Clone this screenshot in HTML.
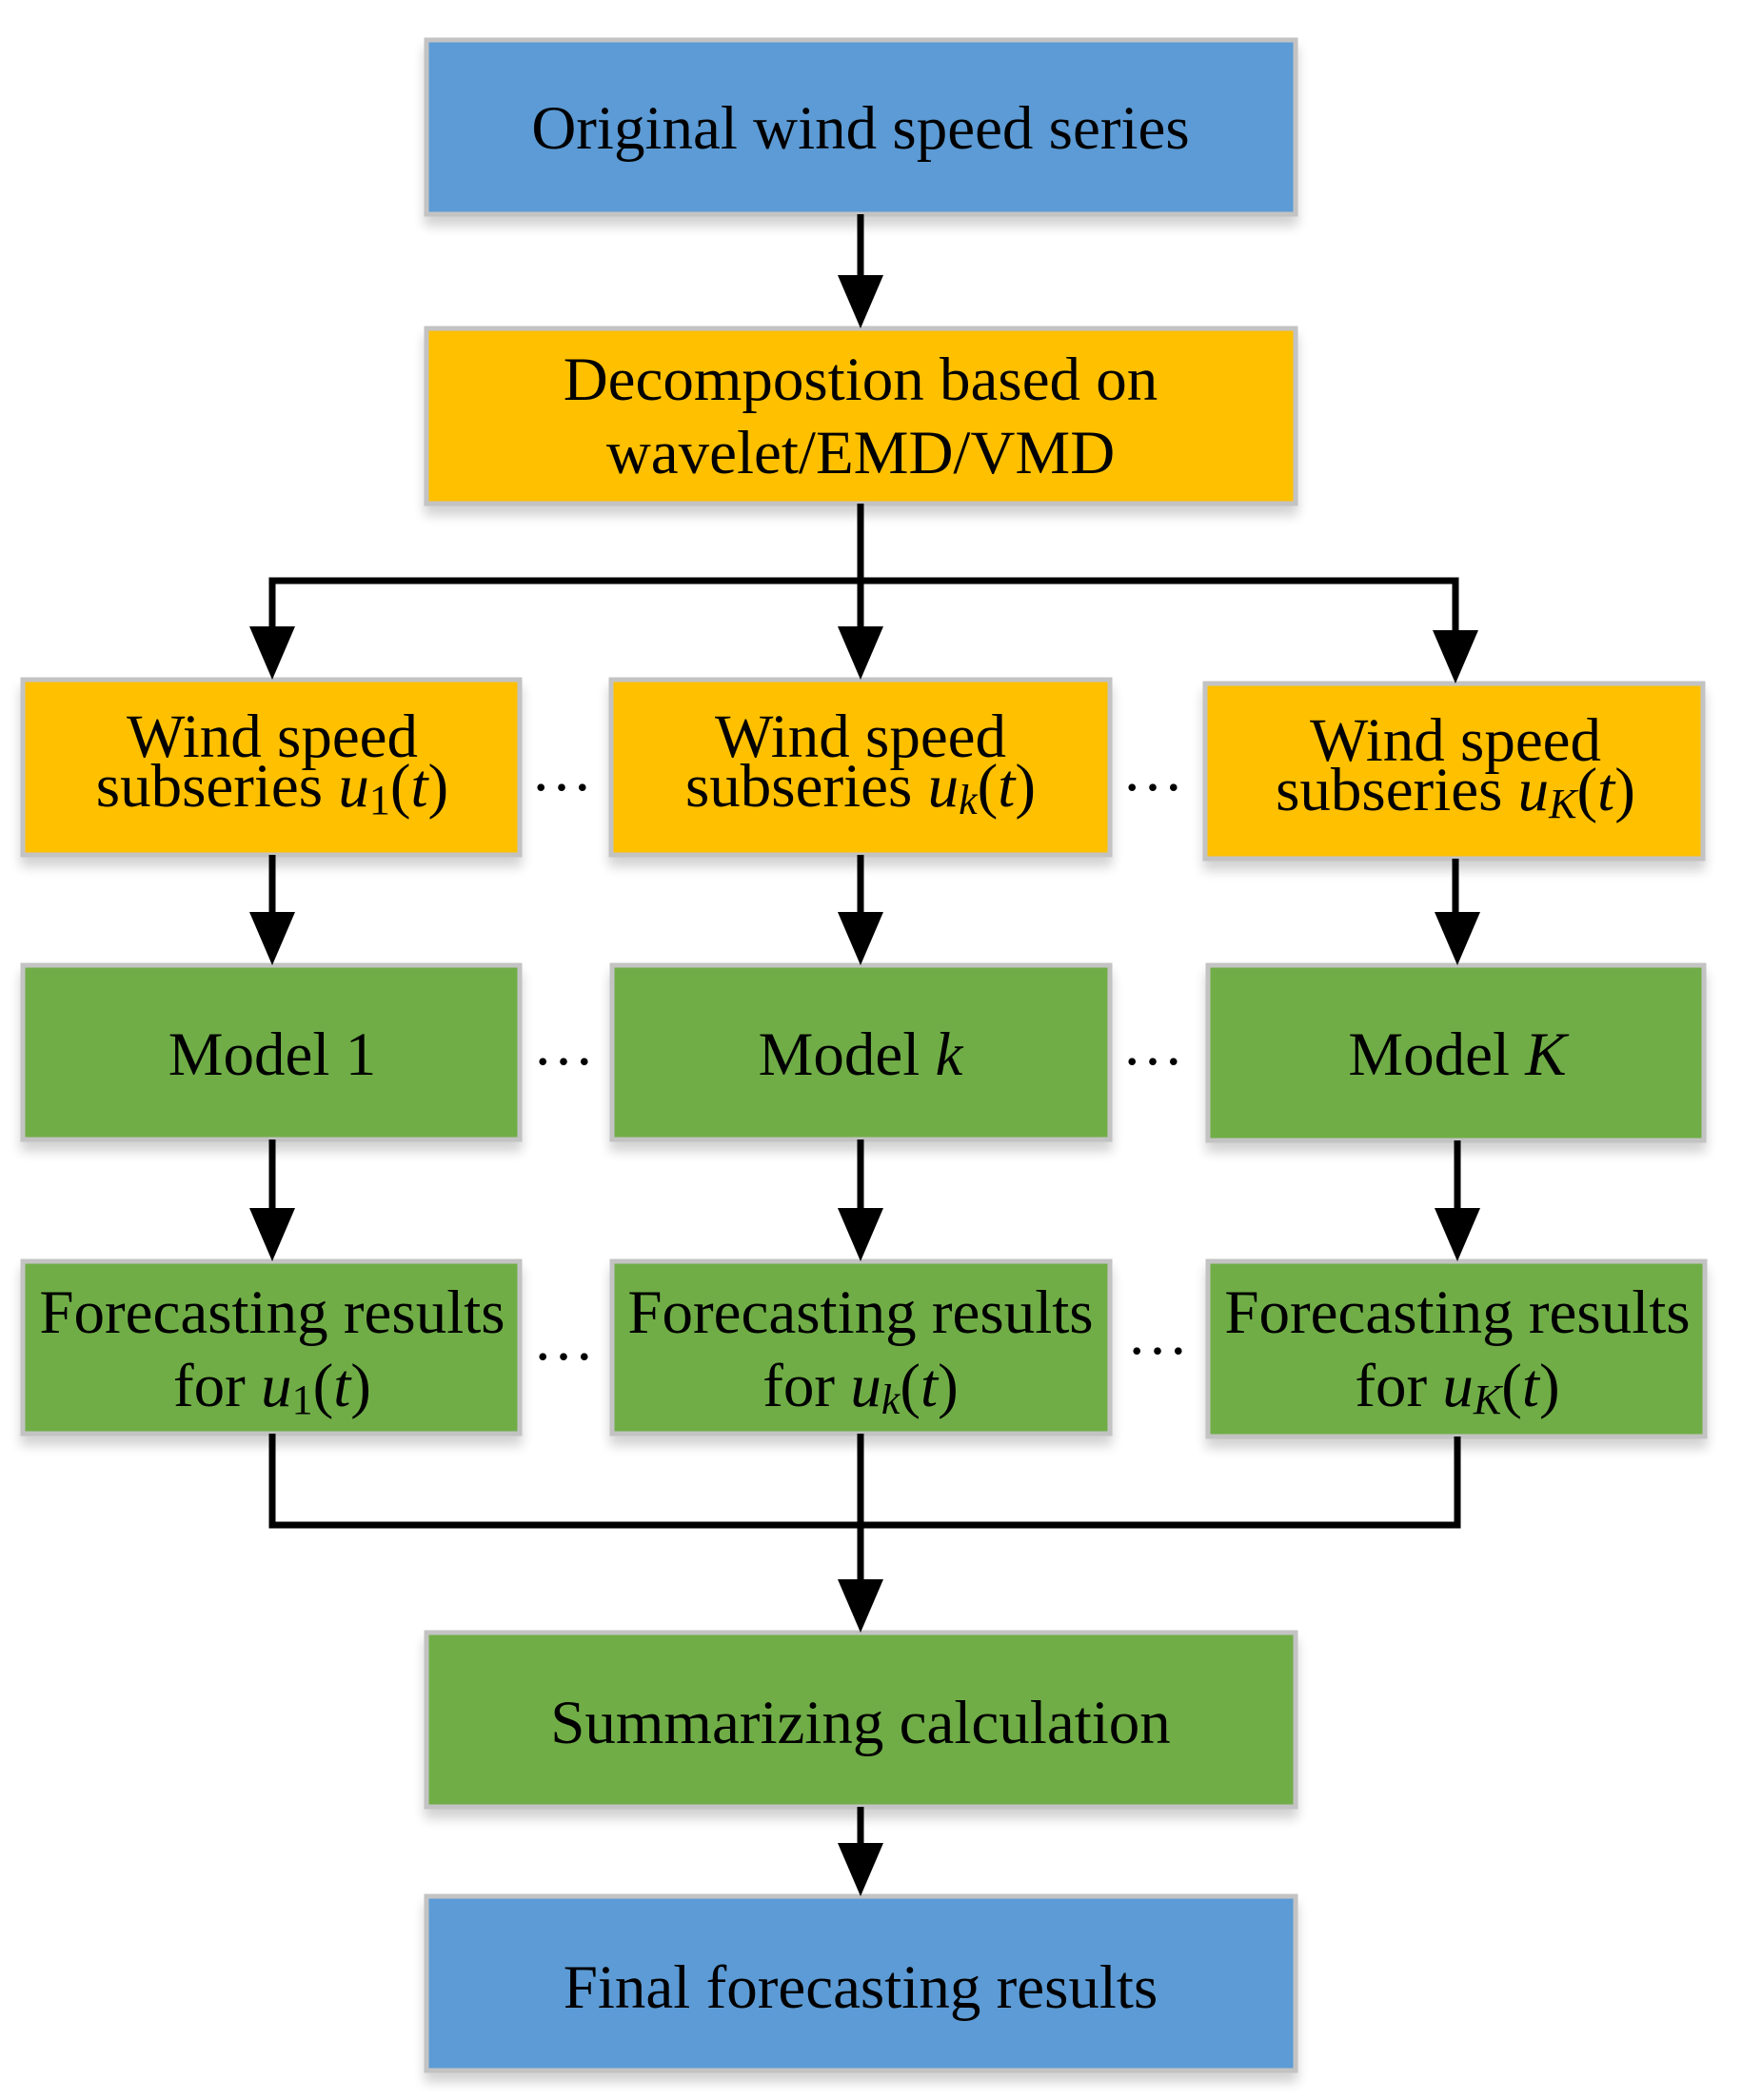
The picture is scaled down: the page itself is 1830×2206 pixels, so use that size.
<!DOCTYPE html>
<html><head><meta charset="utf-8"><style>
html,body{margin:0;padding:0;background:#fff;}
svg{display:block;}
text{font-family:"Liberation Serif",serif;font-size:65px;fill:#000;text-anchor:middle;}
.i{font-style:italic;}
</style></head><body>
<svg width="1830" height="2206" viewBox="0 0 1830 2206" xmlns="http://www.w3.org/2000/svg">
<defs>
<filter id="sh" x="-10%" y="-10%" width="120%" height="140%">
<feGaussianBlur in="SourceAlpha" stdDeviation="6"/>
<feOffset dy="10"/>
<feComponentTransfer><feFuncA type="linear" slope="0.18"/></feComponentTransfer>
<feMerge><feMergeNode/><feMergeNode in="SourceGraphic"/></feMerge>
</filter>
</defs>
<g stroke="#c3c3c3" stroke-width="5" filter="url(#sh)">
<rect x="448" y="42" width="913" height="183" fill="#5B9BD5"/>
<rect x="448" y="345" width="913" height="184" fill="#FFC000"/>
<rect x="24" y="714" width="522" height="184" fill="#FFC000"/>
<rect x="642" y="714" width="524" height="184" fill="#FFC000"/>
<rect x="1266" y="718" width="523" height="184" fill="#FFC000"/>
<rect x="24" y="1014" width="522" height="183" fill="#70AD47"/>
<rect x="643" y="1014" width="523" height="183" fill="#70AD47"/>
<rect x="1269" y="1014" width="521" height="184" fill="#70AD47"/>
<rect x="24" y="1325" width="522" height="181" fill="#70AD47"/>
<rect x="643" y="1325" width="523" height="181" fill="#70AD47"/>
<rect x="1269" y="1325" width="522" height="184" fill="#70AD47"/>
<rect x="448" y="1715" width="913" height="183" fill="#70AD47"/>
<rect x="448" y="1992" width="913" height="183" fill="#5B9BD5"/>
</g>
<g stroke="#000" stroke-width="7" fill="none">
<path d="M904 225V300"/>
<path d="M904 529V660"/>
<path d="M286 660V610H1529V666"/>
<path d="M286 898V960"/><path d="M904 898V960"/><path d="M1529 902V962"/>
<path d="M286 1197V1270"/><path d="M904 1197V1270"/><path d="M1531 1198V1270"/>
<path d="M286 1506V1602H1531V1509"/>
<path d="M904 1506V1660"/>
<path d="M904 1898V1938"/>
</g>
<g fill="#000">
<polygon points="880,289 928,289 904,345"/>
<polygon points="262,658 310,658 286,714"/>
<polygon points="880,658 928,658 904,714"/>
<polygon points="1505,662 1553,662 1529,718"/>
<polygon points="262,958 310,958 286,1014"/>
<polygon points="880,958 928,958 904,1014"/>
<polygon points="1507,958 1555,958 1531,1014"/>
<polygon points="262,1269 310,1269 286,1325"/>
<polygon points="880,1269 928,1269 904,1325"/>
<polygon points="1507,1269 1555,1269 1531,1325"/>
<polygon points="880,1659 928,1659 904,1715"/>
<polygon points="880,1936 928,1936 904,1992"/>
</g>
<text x="904" y="156">Original wind speed series</text>
<text x="904" y="420">Decompostion based on</text>
<text x="904" y="497">wavelet/EMD/VMD</text>
<text x="286" y="795">Wind speed</text>
<text x="286" y="847">subseries <tspan class="i">u</tspan><tspan font-size="44" dy="8">1</tspan><tspan dy="-8">(</tspan><tspan class="i">t</tspan>)</text>
<text x="904" y="795">Wind speed</text>
<text x="904" y="847">subseries <tspan class="i">u</tspan><tspan class="i" font-size="44" dy="8">k</tspan><tspan dy="-8">(</tspan><tspan class="i">t</tspan>)</text>
<text x="1529" y="799">Wind speed</text>
<text x="1529" y="851">subseries <tspan class="i">u</tspan><tspan class="i" font-size="44" dy="8">K</tspan><tspan dy="-8">(</tspan><tspan class="i">t</tspan>)</text>
<text x="286" y="1129">Model 1</text>
<text x="904" y="1129">Model <tspan class="i">k</tspan></text>
<text x="1531" y="1129">Model <tspan class="i">K</tspan></text>
<text x="286" y="1400">Forecasting results</text>
<text x="286" y="1477">for <tspan class="i">u</tspan><tspan font-size="44" dy="8">1</tspan><tspan dy="-8">(</tspan><tspan class="i">t</tspan>)</text>
<text x="904" y="1400">Forecasting results</text>
<text x="904" y="1477">for <tspan class="i">u</tspan><tspan class="i" font-size="44" dy="8">k</tspan><tspan dy="-8">(</tspan><tspan class="i">t</tspan>)</text>
<text x="1531" y="1400">Forecasting results</text>
<text x="1531" y="1477">for <tspan class="i">u</tspan><tspan class="i" font-size="44" dy="8">K</tspan><tspan dy="-8">(</tspan><tspan class="i">t</tspan>)</text>
<text x="904" y="1831">Summarizing calculation</text>
<text x="904" y="2109">Final forecasting results</text>
<g>
<text x="590" y="830" font-size="40">…</text>
<text x="1211" y="830" font-size="40">…</text>
<text x="592" y="1118" font-size="40">…</text>
<text x="1211" y="1118" font-size="40">…</text>
<text x="592" y="1428" font-size="40">…</text>
<text x="1216" y="1422" font-size="40">…</text>
</g>
</svg>
</body></html>
